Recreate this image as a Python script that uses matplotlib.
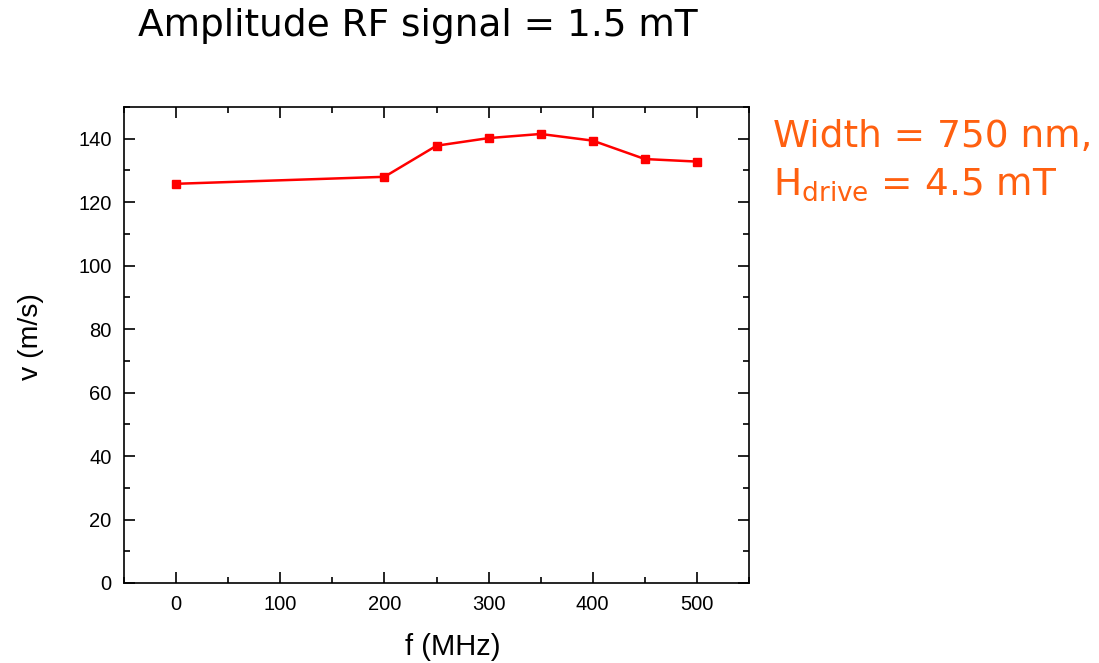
import numpy as np
import matplotlib.pyplot as plt
from matplotlib.ticker import MultipleLocator

# data
f_mhz = [0, 200, 250, 300, 350, 400, 450, 500]
v_ms = [125.8, 128.0, 137.8, 140.2, 141.5, 139.4, 133.6, 132.8]

fig = plt.figure(figsize=(10.99, 6.63), dpi=100)
ax = fig.add_axes([124/1099, 1-583/663, (749-124)/1099, (583-107)/663])

ax.plot(f_mhz, v_ms, color='#ff0000', lw=1.8, marker='s', ms=5.5)

ax.set_xlim(-50, 550)
ax.set_ylim(0, 150)
ax.xaxis.set_major_locator(MultipleLocator(100))
ax.xaxis.set_minor_locator(MultipleLocator(50))
ax.yaxis.set_major_locator(MultipleLocator(20))
ax.yaxis.set_minor_locator(MultipleLocator(10))
ax.tick_params(which='both', direction='in', top=True, right=True, width=1.2)
ax.tick_params(which='major', length=8, labelsize=14.5, pad=9)
ax.tick_params(which='minor', length=4)
for t in ax.get_xticklabels() + ax.get_yticklabels():
    t.set_family('Liberation Sans')
for s in ax.spines.values():
    s.set_linewidth(1.2)

ax.set_xlabel('f (MHz)', fontsize=21, family='Liberation Sans', va='center')
ax.set_ylabel('v (m/s)', fontsize=20.5, family='Liberation Sans', va='center')
ax.xaxis.set_label_coords(0.526, -0.134)
ax.yaxis.set_label_coords(-0.149, 0.517)

fig.text(138/1099, 1-26/663, 'Amplitude RF signal = 1.5 mT', fontsize=27,
         family='DejaVu Sans', va='center', ha='left')
orange = '#ff6010'
fig.text(773/1099, 1-137/663, 'Width = 750 nm,', fontsize=27, color=orange,
         family='DejaVu Sans', va='center', ha='left')
fig.text(773/1099, 1-185/663, r'H$_{\mathregular{drive}}$ = 4.5 mT', fontsize=27,
         color=orange, family='DejaVu Sans', va='center', ha='left')

fig.savefig('out.png', dpi=100)
